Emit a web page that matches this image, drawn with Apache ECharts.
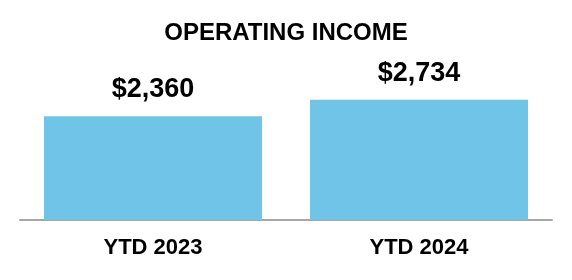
<!DOCTYPE html>
<html><head><meta charset="utf-8">
<script src="https://cdn.jsdelivr.net/npm/echarts@6/dist/echarts.min.js"></script>
<style>html,body{margin:0;padding:0;background:#fff}#c{width:572px;height:280px}</style>
</head><body><div id="c"></div>
<script>
const categories = ['YTD 2023', 'YTD 2024'];
const values = [2360, 2734];
const titleText = 'OPERATING INCOME';

const chart = echarts.init(document.getElementById('c'), null, {renderer: 'canvas'});
chart.setOption({
  animation: false,
  backgroundColor: '#ffffff',
  title: {
    text: titleText, left: 'center', top: 16,
    textStyle: {fontFamily: 'Liberation Sans', fontWeight: 'bold', fontSize: 24, color: '#000'}
  },
  grid: {left: 20, right: 20, top: 88, bottom: 60, containLabel: false},
  xAxis: {
    type: 'category', data: categories,
    axisLine: {lineStyle: {color: '#a6a6a6', width: 2}},
    axisTick: {show: false},
    axisLabel: {margin: 17, fontFamily: 'Liberation Sans', fontWeight: 'bold', fontSize: 22, color: '#000'}
  },
  yAxis: {type: 'value', min: 0, max: 3000, show: false, splitLine: {show: false}},
  series: [{
    type: 'bar', data: values, barWidth: 218,
    itemStyle: {color: '#70c4e8'},
    label: {
      show: true, position: 'top', distance: 13,
      formatter: p => '$' + p.value.toLocaleString('en-US'),
      fontFamily: 'Liberation Sans', fontWeight: 'bold', fontSize: 27, color: '#000'
    }
  }]
});
</script></body></html>
